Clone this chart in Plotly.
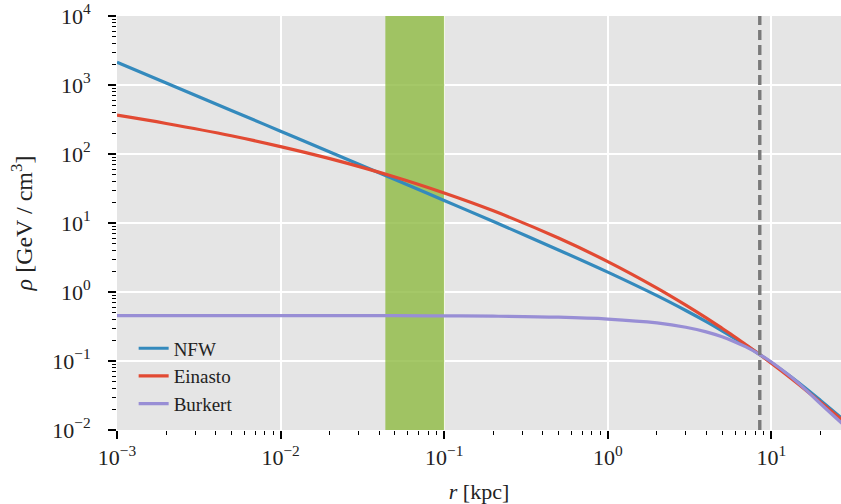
import plotly.graph_objects as go

# galactocentric radius [kpc]
r_kpc = [0.001, 0.002, 0.005, 0.01, 0.02, 0.05, 0.1, 0.2, 0.5, 1, 2, 3, 4, 5, 6, 7, 8.5, 10, 13, 16, 20, 27]

# dark matter density [GeV / cm^3]
rho_nfw = [2140, 1070, 428, 214, 106.8, 42.6, 21.2, 10.5, 4.07, 1.94, 0.884, 0.539, 0.372,
           0.274, 0.211, 0.168, 0.124, 0.0951, 0.0605, 0.0413, 0.0268, 0.0148]
rho_einasto = [365, 277, 184, 128, 85.6, 46.4, 27.2, 15.0, 6.05, 2.76, 1.14, 0.646, 0.422,
               0.298, 0.223, 0.172, 0.124, 0.0932, 0.0579, 0.0391, 0.0252, 0.0140]
rho_burkert = [0.456, 0.456, 0.456, 0.4555, 0.455, 0.454, 0.451, 0.446, 0.431, 0.405, 0.356,
               0.308, 0.264, 0.224, 0.189, 0.160, 0.124, 0.0967, 0.0604, 0.0395, 0.0240, 0.0125]

band = [0.0437, 0.1]   # shaded radius interval
r_sun = 8.5

xtick_vals = [1e-3, 1e-2, 1e-1, 1, 10]
xtick_text = ["10<sup>−3</sup>", "10<sup>−2</sup>", "10<sup>−1</sup>", "10<sup>0</sup>", "10<sup>1</sup>"]
ytick_vals = [1e-2, 1e-1, 1, 10, 100, 1e3, 1e4]
ytick_text = ["10<sup>−2</sup>", "10<sup>−1</sup>", "10<sup>0</sup>", "10<sup>1</sup>",
              "10<sup>2</sup>", "10<sup>3</sup>", "10<sup>4</sup>"]
# minor ticks 2..9 in each decade
x_minor = [m * 10.0 ** e for e in range(-3, 2) for m in range(2, 10)]
y_minor = [m * 10.0 ** e for e in range(-2, 4) for m in range(2, 10)]

font = "Liberation Serif"
xr = [-3, 1.426]
yr = [-2, 4]

fig = go.Figure()

# shaded band as a filled trace so it sits above the grid but under the curves
y_lo, y_hi = 10.0 ** yr[0], 10.0 ** yr[1]
fig.add_trace(go.Scatter(x=[band[0], band[0], band[1], band[1]], y=[y_lo, y_hi, y_hi, y_lo],
                         fill="toself", fillcolor="rgba(142,186,66,0.8)", mode="none",
                         showlegend=False, hoverinfo="skip"))

for name, vals, col in [("NFW", rho_nfw, "#348ABD"),
                        ("Einasto", rho_einasto, "#E24A33"),
                        ("Burkert", rho_burkert, "#988ED5")]:
    fig.add_trace(go.Scatter(x=r_kpc, y=vals, name=name, mode="lines",
                             line=dict(color=col, width=3.2, shape="spline")))

fig.add_vline(x=r_sun, line=dict(color="#7A7A7A", width=3.4, dash="10px,5px"))

tick_font = dict(family=font, size=22, color="#222")
fig.update_xaxes(type="log", range=xr, tickvals=xtick_vals, ticktext=xtick_text,
                 showgrid=True, gridcolor="white", gridwidth=1.6, zeroline=False,
                 ticks="outside", ticklen=8, tickwidth=1.6, tickcolor="black",
                 tickfont=tick_font, automargin=False,
                 title=dict(text="<i>r</i> [kpc]", font=dict(family=font, size=22, color="#222"),
                            standoff=25))
fig.update_yaxes(type="log", range=yr, tickvals=ytick_vals, ticktext=ytick_text,
                 showgrid=True, gridcolor="white", gridwidth=1.6, zeroline=False,
                 ticks="outside", ticklen=8, tickwidth=1.6, tickcolor="black",
                 tickfont=tick_font, automargin=False, ticklabelstandoff=13,
                 title=dict(text="<i>ρ</i> [GeV / cm<sup>3</sup>]",
                            font=dict(family=font, size=24, color="#222"), standoff=12))

# overlay axes carrying only the minor ticks
minor_common = dict(type="log", showgrid=False, zeroline=False, showticklabels=False,
                    ticks="outside", ticklen=4, tickwidth=1, tickcolor="black")
fig.update_layout(
    xaxis2=dict(overlaying="x", anchor="y", side="bottom", range=xr, tickvals=x_minor,
                **minor_common),
    yaxis2=dict(overlaying="y", anchor="x", side="left", range=yr, tickvals=y_minor,
                **minor_common),
)
fig.add_trace(go.Scatter(x=[], y=[], xaxis="x2", yaxis="y2", showlegend=False))

fig.update_layout(
    width=841, height=504,
    margin=dict(l=117, r=0, t=16, b=74),
    plot_bgcolor="#E5E5E5", paper_bgcolor="white",
    font=dict(family=font),
    legend=dict(x=0.023, y=0.016, xanchor="left", yanchor="bottom",
                bgcolor="rgba(0,0,0,0)", font=dict(family=font, size=19, color="#222"),
                tracegroupgap=0),
    showlegend=True,
)

fig.write_html("out.html", config={"displayModeBar": False},
               post_script="document.body.style.margin='0';")
